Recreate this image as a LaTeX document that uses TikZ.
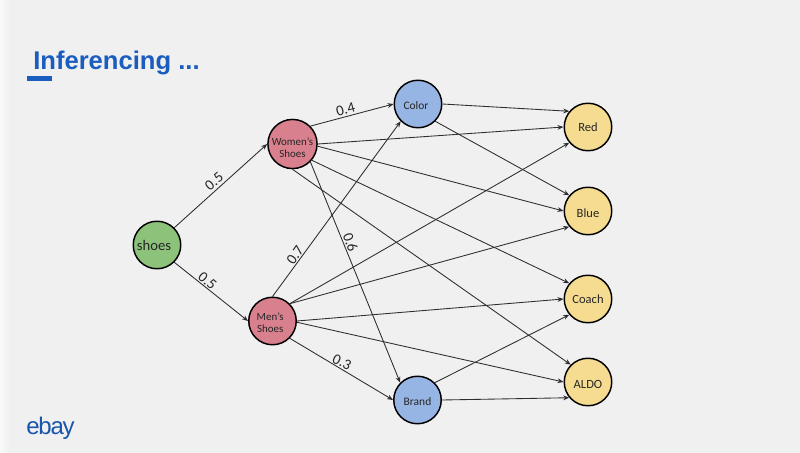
\documentclass[tikz,border=0pt]{standalone}
\usepackage{fontspec}
\setmainfont{Carlito}
\newfontfamily\titlefont{Liberation Sans}
\usetikzlibrary{arrows.meta}
\definecolor{bgc}{HTML}{F0F0F0}
\definecolor{ebayblue}{HTML}{1A5DBE}
\definecolor{gfill}{HTML}{8CC27A}
\definecolor{rfill}{HTML}{D9808E}
\definecolor{bfill}{HTML}{97B5E4}
\definecolor{yfill}{HTML}{F5DC90}
\definecolor{inkc}{HTML}{2E2E2E}
\tikzset{
  nodebase/.style={circle,draw=black,line width=1.1pt,minimum size=47.5*0.75pt,inner sep=0pt,align=center,text=black!85,font=\fontsize{8.2}{9}\selectfont},
  gnode/.style={nodebase,fill=gfill,font=\fontsize{11}{13}\selectfont},
  rnode/.style={nodebase,fill=rfill},
  bnode/.style={nodebase,fill=bfill,font=\fontsize{8.6}{10}\selectfont},
  ynode/.style={nodebase,fill=yfill,font=\fontsize{9.4}{11}\selectfont},
  edge/.style={draw=inkc,line width=0.65pt,-{Stealth[length=4.5pt,width=3.6pt]}},
  wlabel/.style={font=\fontsize{11.2}{13}\selectfont,text=black!85,inner sep=0pt},
}
\begin{document}
\begin{tikzpicture}[x=0.75pt,y=-0.75pt]
\useasboundingbox (0,0) rectangle (800,453);
\fill[bgc] (0,0) rectangle (800,453);
\shade[left color=white!60!bgc,right color=bgc] (0,0) rectangle (10,453);
\node[anchor=west,inner sep=0pt,text=ebayblue,font=\titlefont\bfseries\fontsize{19.2}{23}\selectfont] (title) at (33,63) {Inferencing ...};
\fill[ebayblue] (27,76) rectangle (52,81.5);
\node[anchor=west,inner sep=0pt,text=ebayblue!90!black,font=\titlefont\fontsize{18}{21}\selectfont] (logo) at (26,428) {\addfontfeature{LetterSpace=-5}ebay};

\node[gnode] (s) at (157,245) {shoes\hspace{4.5pt}};
\node[rnode] (w) at (292.5,144) {\rule{0pt}{11pt}Women's\\Shoes};
\node[rnode] (m) at (272.5,321) {\rule{0pt}{9pt}\mbox{Men's\kern3.5pt}\\\mbox{Shoes\kern3.5pt}};
\node[bnode] (c) at (418,104) {\rule{0pt}{8pt}Color\hspace{3pt}};
\node[bnode] (b) at (417.5,400) {\rule{0pt}{8pt}Brand};
\node[ynode] (re) at (588,127) {Red};
\node[ynode] (bl) at (588,211) {\rule{0pt}{10pt}Blue};
\node[ynode] (co) at (588,299) {Coach};
\node[ynode] (al) at (588,382) {\rule{0pt}{10.5pt}ALDO};

\draw[edge] (s.45) -- (w.180);
\draw[edge] (s.-45) -- (m.180);
\draw[edge] (w.45) -- (c.180);
\draw[edge] (w.0) -- (re.180);
\draw[edge] (w.-5) -- (bl.180);
\draw[edge] (w.-40) -- (co.140);
\draw[edge] (w.270) -- (al.135);
\draw[edge] (w.-45) -- (b.135);
\draw[edge] (m.90) -- (c.225);
\draw[edge] (m.45) -- (re.220);
\draw[edge] (m.45) -- (bl.220);
\draw[edge] (m.0) -- (co.180);
\draw[edge] (m.-3) -- (al.180);
\draw[edge] (m.-45) -- (b.180);
\draw[edge] (c.0) -- (re.140);
\draw[edge] (c.-45) -- (bl.140);
\draw[edge] (b.45) -- (co.220);
\draw[edge] (b.0) -- (al.220);

\node[wlabel,rotate=40] (l1) at (214,181.5) {0.5};
\node[wlabel,rotate=-40] (l2) at (207.5,281) {0.5};
\node[wlabel,rotate=15] (l3) at (345.5,109) {0.4};
\node[wlabel,rotate=55] (l4) at (295,255) {0.7};
\node[wlabel,rotate=-70] (l5) at (350.5,242.5) {0.6};
\node[wlabel,rotate=-25] (l6) at (342,362) {0.3};
\end{tikzpicture}
\end{document}
